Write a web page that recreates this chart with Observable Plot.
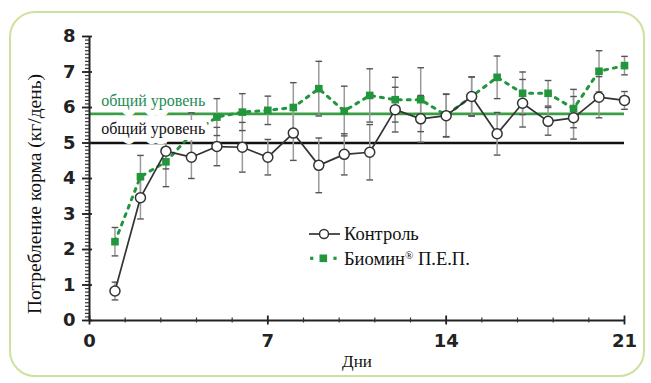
<!DOCTYPE html>
<html><head><meta charset="utf-8">
<script src="https://cdn.jsdelivr.net/npm/d3@7"></script>
<script src="https://cdn.jsdelivr.net/npm/@observablehq/plot@0.6"></script>
<style>
body{margin:0;background:#fff;}
#wrap{position:relative;width:651px;height:383px;overflow:hidden;background:#fff;}
#frame{position:absolute;left:9px;top:11px;width:636px;height:366px;border:2px solid #cde29c;border-radius:26px;box-sizing:border-box;}
#chart{position:absolute;left:0;top:0;}
#legend{position:absolute;left:300px;top:220px;}
#ytitle{position:absolute;left:35px;top:194px;transform:translate(-50%,-50%) rotate(-90deg);white-space:nowrap;font-family:"Liberation Serif";font-size:19.5px;color:#111;line-height:1;}
</style></head><body>
<div id="wrap"><div id="frame"></div><div id="chart"></div><div id="legend"></div><div id="ytitle"></div></div>
<script>
const days = [1,2,3,4,5,6,7,8,9,10,11,12,13,14,15,16,17,18,19,20,21];
const control    = [0.83,3.46,4.77,4.60,4.90,4.88,4.60,5.28,4.37,4.68,4.74,5.94,5.68,5.77,6.31,5.26,6.12,5.61,5.71,6.29,6.20];
const controlErr = [0.25,0.60,0.50,0.60,0.54,0.70,0.50,0.77,0.77,0.58,0.78,0.63,0.66,0.60,0.55,0.60,0.67,0.39,0.60,0.58,0.25];
const biomin     = [2.22,4.05,4.47,5.25,5.73,5.87,5.92,6.00,6.53,5.90,6.34,6.22,6.22,5.78,6.31,6.85,6.40,6.40,5.97,7.02,7.18];
const biominErr  = [0.40,0.60,0.70,0.60,0.52,0.52,0.40,0.70,0.77,0.70,0.75,0.63,0.90,0.60,0.55,0.60,0.60,0.36,0.54,0.58,0.26];
const overallControl = 5.0;
const overallBiomin = 5.82;
const levelLabel = "общий уровень";
const yMajor = [0,1,2,3,4,5,6,7,8];
const yMinor = d3.range(0, 80.5, 1).map(v => v / 10);
const xMajor = [0,7,14,21];
const xMinor = [1.4,2.8,4.2,5.6,8.4,9.8,11.2,12.6,15.4,16.8,18.2,19.6];
const seriesNames = ["Контроль", "Биомин", "®", " П.Е.П."];
const yTitle = "Потребление корма (кг/день)";
const xTitle = "Дни";

const GREEN = "#22963c";
const GREEN_LINE = "#3a9e46";
const GREEN_TEXT = "#1e8c55";
const DARK = "#333";

const ctl = days.map((d,i) => ({day:d, v:control[i], e:controlErr[i]}));
const bio = days.map((d,i) => ({day:d, v:biomin[i], e:biominErr[i]}));
const both = ctl.concat(bio);
const caps = both.flatMap(p => [{day:p.day, y:p.v - p.e}, {day:p.day, y:p.v + p.e}]);
const capW = 0.13;

const serif = "Liberation Serif";
const sans = "DejaVu Sans";

const chart = Plot.plot({
  width: 651, height: 383,
  marginLeft: 89, marginRight: 27, marginTop: 36, marginBottom: 63,
  style: {background: "transparent", overflow: "visible"},
  x: {domain: [0, 21], label: null},
  y: {domain: [0, 8], label: null},
  marks: [
    Plot.ruleY([overallBiomin], {x1: 0, x2: 21, stroke: GREEN_LINE, strokeWidth: 2.6}),
    Plot.ruleY([overallControl], {x1: 0, x2: 21, stroke: "#111", strokeWidth: 2.4}),
    Plot.ruleX(both, {x: "day", y1: d => d.v - d.e, y2: d => d.v + d.e, stroke: "#9a9a9a", strokeWidth: 1.5}),
    Plot.link(caps, {x1: d => d.day - capW, x2: d => d.day + capW, y1: "y", y2: "y", stroke: "#555", strokeWidth: 1.4}),
    Plot.line(bio, {x: "day", y: "v", stroke: GREEN, strokeWidth: 3, strokeDasharray: "3,6"}),
    Plot.dot(bio, {x: "day", y: "v", symbol: "square", r: 4.3, fill: GREEN}),
    Plot.text([levelLabel], {x: 0.46, y: 6.2, text: d => d, textAnchor: "start", fontFamily: serif, fontSize: 16, fill: "white", stroke: "white", strokeWidth: 12}),
    Plot.text([levelLabel], {x: 0.46, y: 5.41, text: d => d, textAnchor: "start", fontFamily: serif, fontSize: 16, fill: "white", stroke: "white", strokeWidth: 12}),
    Plot.text([levelLabel], {x: 0.46, y: 6.2, text: d => d, textAnchor: "start", fontFamily: serif, fontSize: 16, fill: GREEN_TEXT}),
    Plot.text([levelLabel], {x: 0.46, y: 5.41, text: d => d, textAnchor: "start", fontFamily: serif, fontSize: 16, fill: "#111"}),
    Plot.line(ctl, {x: "day", y: "v", stroke: DARK, strokeWidth: 1.7}),
    Plot.dot(ctl, {x: "day", y: "v", r: 5, fill: "white", stroke: DARK, strokeWidth: 1.5}),
    Plot.ruleX([0], {y1: 0, y2: 8, stroke: "#222", strokeWidth: 2}),
    Plot.ruleY([0], {x1: 0, x2: 21, stroke: "#222", strokeWidth: 2}),
    Plot.axisY({ticks: yMinor, tickSize: 4, text: null, label: null, stroke: "#333", strokeWidth: 1.2}),
    Plot.axisY({ticks: yMajor, tickSize: 10, dx: 3, text: null, label: null, stroke: "#222", strokeWidth: 1.8}),
    Plot.axisY({ticks: yMajor, tickSize: 0, tickPadding: 14, fontFamily: sans, fontWeight: "bold", fontSize: 18, fill: "#222", label: null}),
    Plot.axisX({ticks: xMinor, tickSize: 5, dy: -2.5, text: null, label: null, stroke: "#333", strokeWidth: 1.2}),
    Plot.axisX({ticks: xMajor, tickSize: 9, dy: -4.5, text: null, label: null, stroke: "#222", strokeWidth: 1.8}),
    Plot.axisX({ticks: xMajor, tickSize: 0, tickPadding: 14, fontFamily: sans, fontWeight: "bold", fontSize: 18, fill: "#222", label: null}),
    Plot.text([xTitle], {frameAnchor: "bottom", dy: 46, text: d => d, fontFamily: serif, fontSize: 17, fill: "#111"})
  ]
});
document.getElementById("chart").appendChild(chart);
document.getElementById("ytitle").textContent = yTitle;

const lg = d3.select("#legend").append("svg").attr("width", 230).attr("height", 60);
lg.append("line").attr("x1", 9).attr("x2", 40).attr("y1", 14).attr("y2", 14).attr("stroke", DARK).attr("stroke-width", 1.7);
lg.append("circle").attr("cx", 24).attr("cy", 14).attr("r", 4.5).attr("fill", "white").attr("stroke", DARK).attr("stroke-width", 1.5);
lg.append("text").attr("x", 44).attr("y", 19.5).attr("font-family", serif).attr("font-size", 18.5).attr("fill", "#111").text(seriesNames[0]);
[11.7, 35].forEach(cx => lg.append("rect").attr("x", cx - 1.6).attr("y", 38.3 - 1.6).attr("width", 3.2).attr("height", 3.2).attr("fill", GREEN));
lg.append("rect").attr("x", 23.3 - 3.8).attr("y", 38.3 - 3.8).attr("width", 7.6).attr("height", 7.6).attr("fill", GREEN);
const t2 = lg.append("text").attr("x", 44).attr("y", 44.5).attr("font-family", serif).attr("font-size", 18.5).attr("fill", "#111");
t2.append("tspan").text(seriesNames[1]);
t2.append("tspan").attr("font-size", 11).attr("dy", -6).text(seriesNames[2]);
t2.append("tspan").attr("dy", 6).text(seriesNames[3]);
</script>
</body></html>
